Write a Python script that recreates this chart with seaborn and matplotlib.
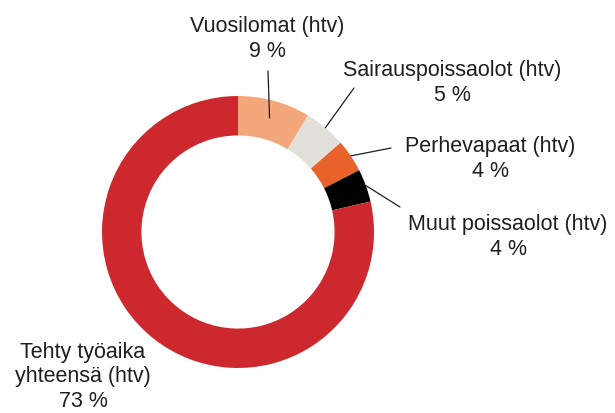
"""
Donut chart of working time split (htv) with leader-line labels.
"""
import numpy as np
import matplotlib
matplotlib.use('Agg')
import matplotlib.pyplot as plt
import seaborn as sns

# data
categories = ["Vuosilomat (htv)", "Sairauspoissaolot (htv)", "Perhevapaat (htv)",
              "Muut poissaolot (htv)", "Tehty työaika\nyhteensä (htv)"]
shares = [8.6, 5.0, 3.9, 3.9, 78.6]          # drawn slice sizes
shown_pct = [9, 5, 4, 4, 73]                 # percentages printed in labels
colors = ["#F4A77A", "#E3E0DC", "#E8622A", "#000000", "#CD282E"]

sns.set_theme(style="white")
plt.rcParams['font.family'] = ['Liberation Sans', 'DejaVu Sans']

W, H = 615, 414
fig = plt.figure(figsize=(W / 100, H / 100), dpi=100)
ax = fig.add_axes([0, 0, 1, 1])
ax.axis('off')


def px(x, y):
    # pixel coords (origin top-left) -> data coords
    return (x, H - y)


cx, cy = px(238, 233)
R = 136
ring = 0.29

wedges, _ = ax.pie(shares, colors=colors, startangle=90, counterclock=False,
                   radius=R, center=(cx, cy),
                   wedgeprops=dict(width=R * ring, linewidth=0))
ax.set_xlim(0, W)
ax.set_ylim(0, H)
ax.set_aspect('equal')

# label layout: text centre, leader line end (pixels), anchor radius factor, line spacing
text_pos = [(267, 39), (452, 83), (490, 159), (508, 237), (83, 377)]
line_end = [(268, 72), (354, 89), (391, 149), (400, 208), None]
anchor_r = [0.87, 1.0, 1.0, 1.0, None]
spacing = [1.28, 1.28, 1.28, 1.28, 1.2]

for w, cat, pct, tp, le, ar, ls in zip(wedges, categories, shown_pct, text_pos,
                                       line_end, anchor_r, spacing):
    ax.text(*px(*tp), f"{cat}\n{pct} %", ha='center', va='center',
            multialignment='center', fontsize=15.5, color='#1f1f1f', linespacing=ls)
    if le is None:
        continue
    ang = np.deg2rad((w.theta1 + w.theta2) / 2)
    ax_pt = (cx + R * ar * np.cos(ang), cy + R * ar * np.sin(ang))
    lx, ly = px(*le)
    ax.plot([ax_pt[0], lx], [ax_pt[1], ly], color='#1f1f1f', lw=0.9)

plt.savefig('out.png', dpi=100)
plt.close()
